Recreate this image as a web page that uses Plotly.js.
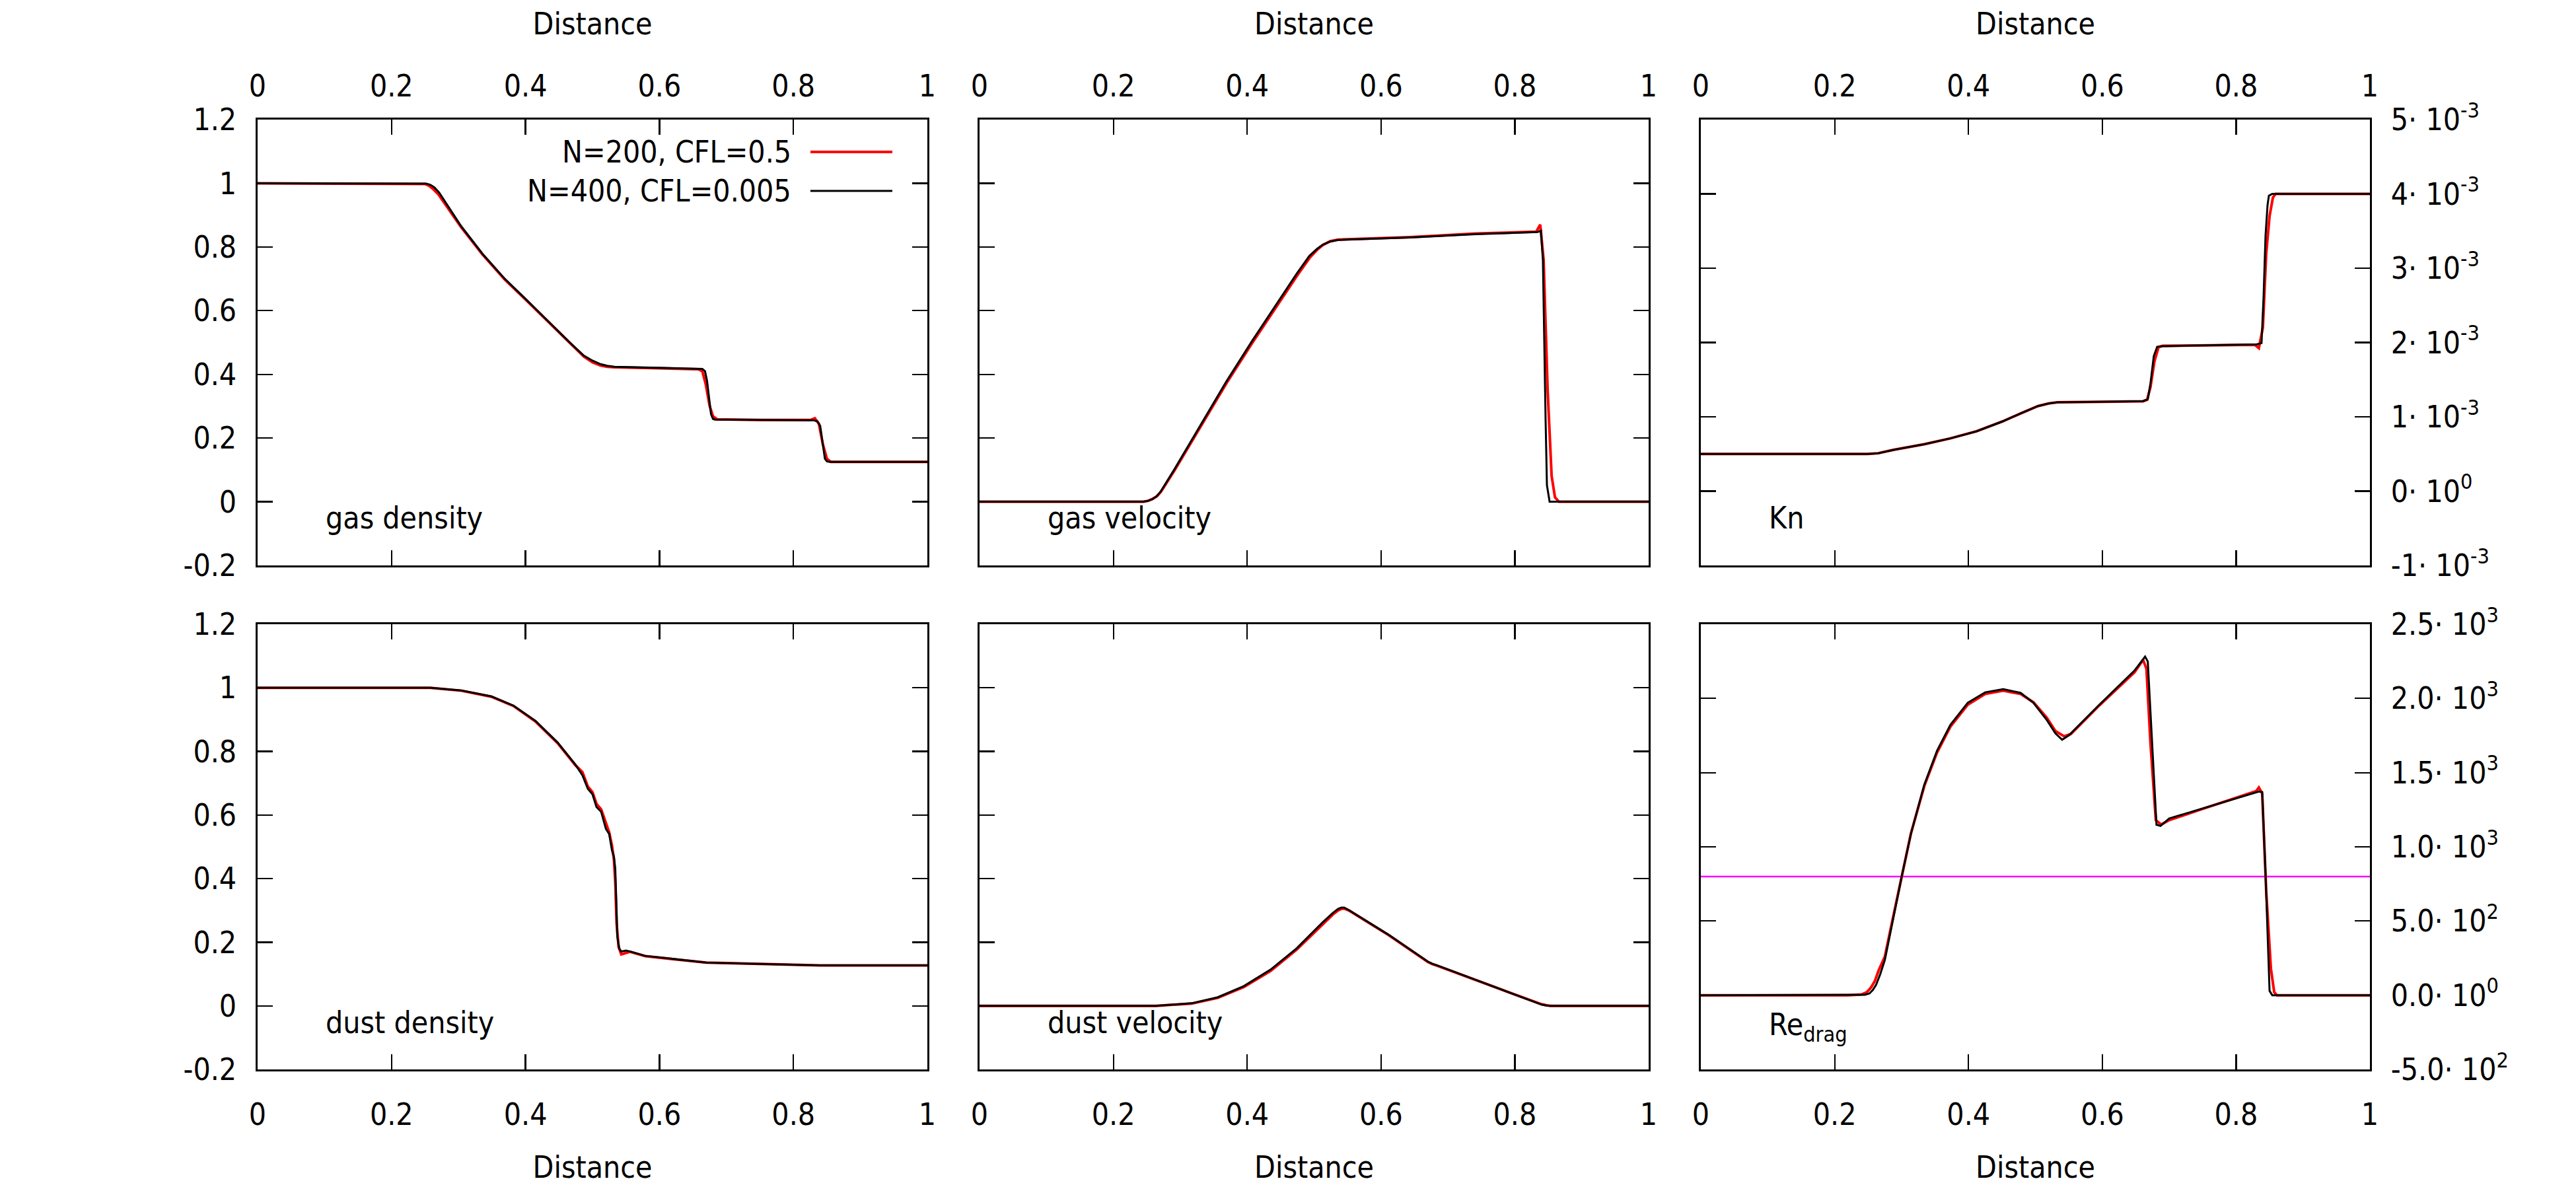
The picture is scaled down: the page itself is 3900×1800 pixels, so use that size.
<!DOCTYPE html>
<html>
<head>
<meta charset="utf-8">
<script src="https://cdn.plot.ly/plotly-3.0.1.min.js"></script>
<style>
  html, body { margin: 0; padding: 0; background: #fff; }
  #chart { width: 3900px; height: 1800px; }
</style>
</head>
<body>
<div id="chart"></div>
<script>
// ── Data ───────────────────────────────────────────────────────────────────
// gas density
const gasDensX      = [0, 0.24, 0.252, 0.258, 0.264, 0.271, 0.285, 0.304, 0.336, 0.369, 0.402, 0.435, 0.467, 0.487, 0.500, 0.512, 0.522, 0.533, 0.60, 0.664, 0.668, 0.671, 0.677, 0.680, 0.683, 0.75, 0.830, 0.836, 0.840, 0.847, 0.850, 0.854, 1.0];
const gasDensBlack  = [1.0, 1.0, 0.999, 0.995, 0.987, 0.971, 0.925, 0.865, 0.778, 0.700, 0.633, 0.565, 0.498, 0.459, 0.443, 0.432, 0.427, 0.424, 0.420, 0.417, 0.410, 0.380, 0.275, 0.260, 0.258, 0.257, 0.256, 0.252, 0.238, 0.135, 0.127, 0.125, 0.125];
const gasDensRedX   = [0, 0.24, 0.250, 0.256, 0.262, 0.270, 0.285, 0.304, 0.336, 0.369, 0.402, 0.435, 0.467, 0.487, 0.500, 0.512, 0.522, 0.533, 0.60, 0.658, 0.664, 0.669, 0.675, 0.680, 0.686, 0.75, 0.826, 0.832, 0.838, 0.844, 0.850, 0.856, 1.0];
const gasDensRed    = [1.0, 1.0, 0.998, 0.992, 0.982, 0.965, 0.920, 0.862, 0.776, 0.698, 0.631, 0.563, 0.496, 0.456, 0.438, 0.428, 0.424, 0.422, 0.419, 0.416, 0.410, 0.370, 0.300, 0.268, 0.259, 0.257, 0.257, 0.262, 0.245, 0.180, 0.135, 0.125, 0.125];

// gas velocity
const gasVelX       = [0, 0.245, 0.252, 0.258, 0.265, 0.271, 0.291, 0.330, 0.369, 0.408, 0.448, 0.474, 0.493, 0.505, 0.513, 0.524, 0.536, 0.644, 0.742, 0.834, 0.839, 0.842, 0.846, 0.848, 0.852, 1.0];
const gasVelBlack   = [0, 0, 0.003, 0.008, 0.018, 0.033, 0.101, 0.241, 0.378, 0.507, 0.633, 0.716, 0.772, 0.795, 0.807, 0.817, 0.822, 0.830, 0.840, 0.847, 0.851, 0.758, 0.256, 0.052, 0, 0];
const gasVelRedX    = [0, 0.245, 0.252, 0.258, 0.265, 0.271, 0.291, 0.330, 0.369, 0.408, 0.448, 0.474, 0.493, 0.505, 0.513, 0.524, 0.536, 0.644, 0.742, 0.832, 0.838, 0.843, 0.849, 0.855, 0.860, 0.866, 1.0];
const gasVelRed     = [0, 0, 0.003, 0.008, 0.017, 0.031, 0.097, 0.236, 0.372, 0.500, 0.627, 0.708, 0.765, 0.792, 0.806, 0.818, 0.823, 0.831, 0.842, 0.848, 0.870, 0.760, 0.352, 0.081, 0.014, 0, 0];

// Kn
const knX           = [0, 0.249, 0.265, 0.288, 0.334, 0.373, 0.412, 0.451, 0.478, 0.504, 0.520, 0.533, 0.600, 0.661, 0.668, 0.672, 0.677, 0.682, 0.687, 0.760, 0.831, 0.838, 0.841, 0.844, 0.847, 0.849, 0.854, 1.0];
const knBlack       = [0.5e-3, 0.5e-3, 0.51e-3, 0.556e-3, 0.631e-3, 0.71e-3, 0.805e-3, 0.938e-3, 1.046e-3, 1.145e-3, 1.18e-3, 1.195e-3, 1.203e-3, 1.212e-3, 1.237e-3, 1.45e-3, 1.817e-3, 1.942e-3, 1.950e-3, 1.962e-3, 1.975e-3, 1.992e-3, 2.6e-3, 3.44e-3, 3.85e-3, 3.975e-3, 4.0e-3, 4.0e-3];
const knRedX        = [0, 0.249, 0.265, 0.288, 0.334, 0.373, 0.412, 0.451, 0.478, 0.504, 0.520, 0.533, 0.600, 0.661, 0.667, 0.672, 0.678, 0.684, 0.690, 0.760, 0.828, 0.834, 0.840, 0.845, 0.850, 0.855, 0.859, 1.0];
const knRed         = [0.5e-3, 0.5e-3, 0.51e-3, 0.556e-3, 0.631e-3, 0.71e-3, 0.805e-3, 0.938e-3, 1.046e-3, 1.145e-3, 1.18e-3, 1.195e-3, 1.203e-3, 1.210e-3, 1.230e-3, 1.40e-3, 1.750e-3, 1.935e-3, 1.955e-3, 1.962e-3, 1.970e-3, 1.925e-3, 2.2e-3, 3.2e-3, 3.7e-3, 3.95e-3, 4.0e-3, 4.0e-3];

// dust density
const dustDensX     = [0, 0.258, 0.304, 0.349, 0.382, 0.415, 0.448, 0.474, 0.485, 0.493, 0.500, 0.506, 0.513, 0.520, 0.525, 0.529, 0.532, 0.534, 0.536, 0.537, 0.540, 0.543, 0.550, 0.556, 0.579, 0.670, 0.840, 1.0];
const dustDensBlack = [1.0, 1.0, 0.992, 0.973, 0.944, 0.896, 0.828, 0.760, 0.725, 0.683, 0.665, 0.625, 0.610, 0.557, 0.540, 0.490, 0.470, 0.432, 0.300, 0.219, 0.180, 0.171, 0.174, 0.171, 0.157, 0.136, 0.127, 0.127];
const dustDensRedX  = [0, 0.258, 0.304, 0.349, 0.382, 0.415, 0.448, 0.474, 0.485, 0.493, 0.500, 0.506, 0.513, 0.520, 0.525, 0.529, 0.532, 0.534, 0.536, 0.539, 0.543, 0.548, 0.556, 0.579, 0.670, 0.840, 1.0];
const dustDensRed   = [1.0, 1.0, 0.991, 0.972, 0.943, 0.894, 0.826, 0.758, 0.735, 0.690, 0.672, 0.635, 0.618, 0.575, 0.545, 0.505, 0.460, 0.390, 0.260, 0.185, 0.162, 0.165, 0.170, 0.156, 0.136, 0.127, 0.127];

// dust velocity
const dustVelX      = [0, 0.264, 0.317, 0.356, 0.395, 0.435, 0.474, 0.513, 0.528, 0.536, 0.541, 0.545, 0.552, 0.611, 0.670, 0.677, 0.683, 0.775, 0.830, 0.840, 0.847, 0.853, 1.0];
const dustVelBlack  = [0, 0, 0.008, 0.027, 0.062, 0.114, 0.181, 0.263, 0.292, 0.305, 0.309, 0.309, 0.301, 0.224, 0.139, 0.132, 0.128, 0.056, 0.012, 0.004, 0.001, 0, 0];
const dustVelRed    = [0, 0, 0.007, 0.025, 0.059, 0.110, 0.177, 0.258, 0.287, 0.300, 0.305, 0.306, 0.300, 0.223, 0.138, 0.131, 0.127, 0.055, 0.013, 0.005, 0.002, 0, 0];

// Re_drag
const reX           = [0, 0.223, 0.245, 0.252, 0.257, 0.262, 0.268, 0.275, 0.288, 0.301, 0.314, 0.334, 0.353, 0.373, 0.399, 0.425, 0.452, 0.478, 0.497, 0.517, 0.530, 0.540, 0.550, 0.596, 0.648, 0.664, 0.668, 0.674, 0.681, 0.687, 0.700, 0.746, 0.834, 0.839, 0.844, 0.850, 0.854, 1.0];
const reBlack       = [0, 0, 3, 12, 35, 71, 140, 237, 527, 817, 1087, 1419, 1647, 1822, 1971, 2041, 2062, 2037, 1971, 1855, 1764, 1722, 1751, 1959, 2187, 2282, 2249, 1730, 1149, 1141, 1191, 1253, 1373, 1369, 817, 29, 0, 0];
const reRedX        = [0, 0.220, 0.240, 0.248, 0.254, 0.260, 0.266, 0.275, 0.288, 0.301, 0.314, 0.334, 0.353, 0.373, 0.399, 0.425, 0.452, 0.478, 0.497, 0.517, 0.530, 0.543, 0.553, 0.596, 0.648, 0.661, 0.666, 0.672, 0.680, 0.688, 0.700, 0.746, 0.830, 0.834, 0.839, 0.845, 0.852, 0.857, 0.861, 1.0];
const reRed         = [0, 0, 5, 20, 50, 95, 170, 260, 540, 825, 1090, 1410, 1635, 1810, 1958, 2030, 2052, 2030, 1975, 1870, 1780, 1745, 1760, 1955, 2175, 2260, 2200, 1700, 1180, 1150, 1180, 1250, 1375, 1400, 1360, 700, 180, 20, 0, 0];

// threshold line in the Re_drag panel
const reLimitX      = [0, 1];
const reLimit       = [800, 800];

// axis ticks
const xTicks        = [0, 0.2, 0.4, 0.6, 0.8, 1];
const xTickText     = ['0', '0.2', '0.4', '0.6', '0.8', '1'];
const yTicks        = [-0.2, 0, 0.2, 0.4, 0.6, 0.8, 1, 1.2];
const yTickText     = ['-0.2', '0', '0.2', '0.4', '0.6', '0.8', '1', '1.2'];
const knTicks       = [-1e-3, 0, 1e-3, 2e-3, 3e-3, 4e-3, 5e-3];
const knTickText    = ['-1· 10<sup>-3</sup>', '0· 10<sup>0</sup>', '1· 10<sup>-3</sup>', '2· 10<sup>-3</sup>',
                       '3· 10<sup>-3</sup>', '4· 10<sup>-3</sup>', '5· 10<sup>-3</sup>'];
const reTicks       = [-500, 0, 500, 1000, 1500, 2000, 2500];
const reTickText    = ['-5.0· 10<sup>2</sup>', '0.0· 10<sup>0</sup>', '5.0· 10<sup>2</sup>', '1.0· 10<sup>3</sup>',
                       '1.5· 10<sup>3</sup>', '2.0· 10<sup>3</sup>', '2.5· 10<sup>3</sup>'];

const seriesNames   = ['N=200, CFL=0.5', 'N=400, CFL=0.005'];
const panelLabels   = ['gas density', 'gas velocity', 'Kn', 'dust density', 'dust velocity', 'Re<sub>drag</sub>'];

// ── Layout helpers ─────────────────────────────────────────────────────────
const FONT  = 'DejaVu Sans Condensed, DejaVu Sans, sans-serif';
const RED   = '#ff0000';
const BLACK = '#000000';

const colDomains = [[0.1, 0.36], [0.38026, 0.64], [0.66026, 0.92]];
const rowDomains = [[0.52444, 0.89944], [0.10056, 0.475]];

function xAxis(col, row) {
  const top = row === 0;
  return {
    domain: colDomains[col],
    anchor: 'y' + (row * 3 + col + 1 === 1 ? '' : row * 3 + col + 1),
    range: [0, 1],
    side: top ? 'top' : 'bottom',
    tickvals: xTicks, ticktext: xTickText,
    ticks: 'inside', ticklen: 23, tickwidth: 2.2, tickcolor: BLACK,
    ticklabelstandoff: top ? 14 : 26,
    showline: true, linecolor: BLACK, linewidth: 2.6, mirror: 'allticks',
    showgrid: false, zeroline: false,
    tickfont: {family: FONT, size: 46, color: BLACK},
    title: {text: 'Distance', font: {family: FONT, size: 46, color: BLACK}, standoff: top ? 36 : 38},
  };
}

function yAxis(col, row, range, vals, text, side, showLabels) {
  const n = row * 3 + col + 1;
  return {
    domain: rowDomains[row],
    anchor: 'x' + (n === 1 ? '' : n),
    range: range,
    side: side,
    tickvals: vals, ticktext: text,
    showticklabels: showLabels,
    ticks: 'inside', ticklen: 23, tickwidth: 2.2, tickcolor: BLACK,
    ticklabelstandoff: 20,
    showline: true, linecolor: BLACK, linewidth: 2.6, mirror: 'allticks',
    showgrid: false, zeroline: false,
    tickfont: {family: FONT, size: 46, color: BLACK},
  };
}

function pair(n, redX, redY, blackX, blackY) {
  const suffix = n === 1 ? '' : n;
  return [
    {x: redX, y: redY, xaxis: 'x' + suffix, yaxis: 'y' + suffix, mode: 'lines',
     line: {color: RED, width: 4}, name: seriesNames[0], showlegend: false},
    {x: blackX, y: blackY, xaxis: 'x' + suffix, yaxis: 'y' + suffix, mode: 'lines',
     line: {color: BLACK, width: 3}, name: seriesNames[1], showlegend: false},
  ];
}

const traces = [
  ...pair(1, gasDensRedX, gasDensRed, gasDensX, gasDensBlack),
  ...pair(2, gasVelRedX, gasVelRed, gasVelX, gasVelBlack),
  ...pair(3, knRedX, knRed, knX, knBlack),
  ...pair(4, dustDensRedX, dustDensRed, dustDensX, dustDensBlack),
  ...pair(5, dustVelX, dustVelRed, dustVelX, dustVelBlack),
  {x: reLimitX, y: reLimit, xaxis: 'x6', yaxis: 'y6', mode: 'lines',
   line: {color: '#ff00ff', width: 2.6}, showlegend: false, hoverinfo: 'skip'},
  ...pair(6, reRedX, reRed, reX, reBlack),
];

// panel labels sit in the lower-left corner of every frame
const annotations = panelLabels.map((txt, i) => ({
  text: txt,
  xref: 'x' + (i === 0 ? '' : i + 1) + ' domain',
  yref: 'y' + (i === 0 ? '' : i + 1) + ' domain',
  x: 0.1, y: i === 5 ? 0.095 : 0.106, xanchor: 'left', yanchor: 'middle',
  showarrow: false,
  font: {family: FONT, size: 46, color: BLACK},
}));

// legend inside the gas-density panel: text right-aligned, sample line after it
const legendRows = [0.8722, 0.8394];
seriesNames.forEach((name, i) => {
  annotations.push({
    text: name, xref: 'paper', yref: 'paper',
    x: 0.3077, y: legendRows[i], xanchor: 'right', yanchor: 'middle',
    showarrow: false, font: {family: FONT, size: 46, color: BLACK},
  });
});
const shapes = seriesNames.map((name, i) => ({
  type: 'line', xref: 'paper', yref: 'paper',
  x0: 0.3146, x1: 0.3464, y0: legendRows[i], y1: legendRows[i],
  line: {color: i === 0 ? RED : BLACK, width: i === 0 ? 4 : 3},
}));

const layout = {
  width: 3900, height: 1800,
  margin: {l: 0, r: 0, t: 0, b: 0},
  paper_bgcolor: '#ffffff', plot_bgcolor: '#ffffff',
  font: {family: FONT, size: 46, color: BLACK},
  showlegend: false,
  xaxis:  xAxis(0, 0),
  xaxis2: xAxis(1, 0),
  xaxis3: xAxis(2, 0),
  xaxis4: xAxis(0, 1),
  xaxis5: xAxis(1, 1),
  xaxis6: xAxis(2, 1),
  yaxis:  yAxis(0, 0, [-0.2, 1.2], yTicks, yTickText, 'left', true),
  yaxis2: yAxis(1, 0, [-0.2, 1.2], yTicks, yTickText, 'left', false),
  yaxis3: yAxis(2, 0, [-1e-3, 5e-3], knTicks, knTickText, 'right', true),
  yaxis4: yAxis(0, 1, [-0.2, 1.2], yTicks, yTickText, 'left', true),
  yaxis5: yAxis(1, 1, [-0.2, 1.2], yTicks, yTickText, 'left', false),
  yaxis6: yAxis(2, 1, [-500, 2500], reTicks, reTickText, 'right', true),
  annotations: annotations,
  shapes: shapes,
};

Plotly.newPlot('chart', traces, layout, {displayModeBar: false, staticPlot: true});
</script>
</body>
</html>
